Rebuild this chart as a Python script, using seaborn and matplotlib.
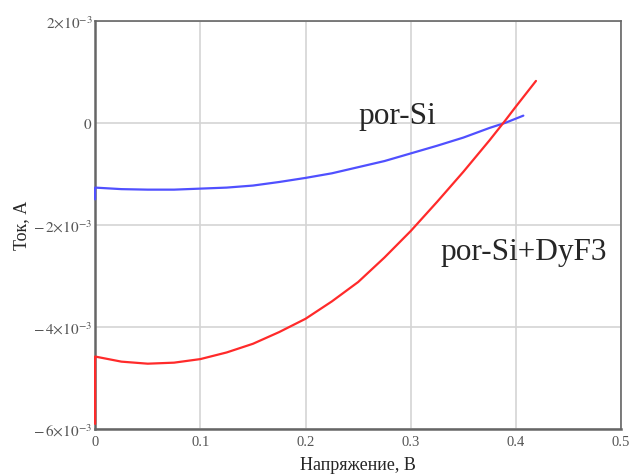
import matplotlib
matplotlib.use("Agg")
import matplotlib.pyplot as plt
import seaborn as sns
import pandas as pd

# Data (voltage in V, current in A)
v_porsi = [0.0, 0.0, 0.025, 0.05, 0.075, 0.1, 0.125, 0.15, 0.175, 0.2, 0.225,
           0.25, 0.275, 0.3, 0.325, 0.35, 0.375, 0.39, 0.407]
i_porsi = [-1.50e-3, -1.27e-3, -1.30e-3, -1.31e-3, -1.31e-3, -1.29e-3, -1.27e-3,
           -1.23e-3, -1.16e-3, -1.08e-3, -0.99e-3, -0.87e-3, -0.75e-3, -0.60e-3,
           -0.45e-3, -0.29e-3, -0.10e-3, 0.0, 0.14e-3]
v_dyf3 = [0.0, 0.0, 0.025, 0.05, 0.075, 0.1, 0.125, 0.15, 0.175, 0.2, 0.225,
          0.25, 0.275, 0.3, 0.325, 0.35, 0.375, 0.39, 0.4, 0.419]
i_dyf3 = [-5.9e-3, -4.58e-3, -4.68e-3, -4.72e-3, -4.70e-3, -4.63e-3, -4.50e-3,
          -4.33e-3, -4.10e-3, -3.84e-3, -3.50e-3, -3.12e-3, -2.64e-3, -2.12e-3,
          -1.55e-3, -0.96e-3, -0.34e-3, 0.05e-3, 0.32e-3, 0.82e-3]
x_ticks = [0, 0.1, 0.2, 0.3, 0.4, 0.5]
x_ticklabels = ["0", "0.1", "0.2", "0.3", "0.4", "0.5"]
y_ticks = [-6e-3, -4e-3, -2e-3, 0, 2e-3]
y_ticklabels = [r"$-\,6{\times}10^{-3}$", r"$-\,4{\times}10^{-3}$", r"$-\,2{\times}10^{-3}$",
                r"$0$", r"$2{\times}10^{-3}$"]

df = pd.concat([
    pd.DataFrame({"V": v_porsi, "I": i_porsi, "s": "por-Si"}),
    pd.DataFrame({"V": v_dyf3, "I": i_dyf3, "s": "por-Si+DyF3"}),
])

sns.set_style("white")
plt.rcParams["font.family"] = ["Liberation Serif", "DejaVu Serif"]
plt.rcParams["mathtext.fontset"] = "stix"

fig = plt.figure(figsize=(6.3, 4.77), dpi=100)
ax = fig.add_axes([0.151, 0.0985, 0.835, 0.856])

sns.lineplot(data=df, x="V", y="I", hue="s",
             palette={"por-Si": "#5050ff", "por-Si+DyF3": "#ff2a2a"},
             sort=False, estimator=None, legend=False, lw=1.6, ax=ax)
for ln in ax.lines:
    ln.set_clip_on(False)
    ln.set_zorder(4)

ax.set_xlim(0, 0.5)
ax.set_ylim(-6e-3, 2e-3)
ax.set_xticks(x_ticks)
ax.set_xticklabels(x_ticklabels, fontsize=10.5, color="#555555")
ax.set_yticks(y_ticks)
ax.set_yticklabels(y_ticklabels, fontsize=11, color="#555555")
ax.grid(True, color="#d4d4d4", lw=1.2)
ax.tick_params(axis="y", length=0, pad=2)
ax.tick_params(axis="x", length=0, pad=4)
for side, sp in ax.spines.items():
    sp.set_color("#666666")
    sp.set_linewidth(1.8 if side in ("left", "bottom") else 1.2)

ax.set_xlabel("Напряжение, В", fontsize=13, labelpad=6)
ax.set_ylabel("Ток, А", fontsize=13, labelpad=2)

ax.text(0.25, 0.0, "por-Si", fontsize=22.5, ha="left", va="baseline")
ax.text(0.328, -2.67e-3, "por-Si+DyF3", fontsize=22.5, ha="left", va="baseline")

fig.savefig("out.png", dpi=100)
